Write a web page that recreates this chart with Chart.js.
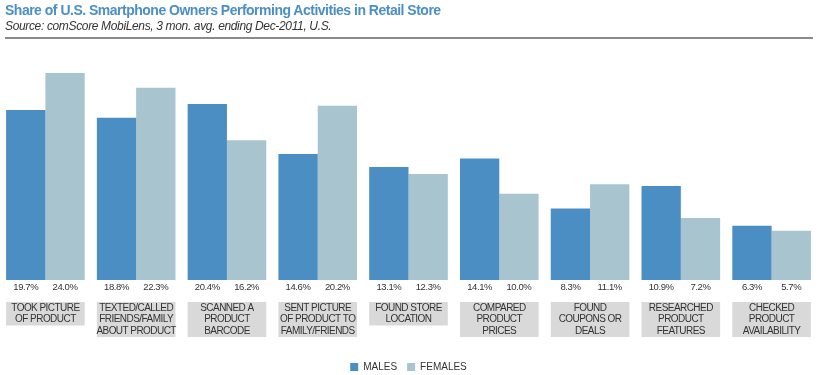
<!DOCTYPE html>
<html>
<head>
<meta charset="utf-8">
<script src="https://cdn.jsdelivr.net/npm/chart.js@4"></script>
<style>
  html, body { margin: 0; padding: 0; background: #fff; }
  #wrap { position: relative; width: 824px; height: 375px; overflow: hidden; font-family: "Liberation Sans", Arial, sans-serif; }
  #title { position: absolute; left: 5px; top: 2px; font-size: 14px; letter-spacing: -0.5px; font-weight: bold; color: #4a8fc6; white-space: nowrap; }
  #sub { position: absolute; left: 5px; top: 19px; font-size: 12px; letter-spacing: -0.35px; font-style: italic; color: #333; white-space: nowrap; }
  #rule { position: absolute; left: 5px; top: 37px; width: 808px; height: 2px; background: #8a8a8a; }
  #c { position: absolute; left: 0; top: 0; }
</style>
</head>
<body>
<div id="wrap">
  <canvas id="c" width="824" height="382"></canvas>
  <div id="title">Share of U.S. Smartphone Owners Performing Activities in Retail Store</div>
  <div id="sub">Source: comScore MobiLens, 3 mon. avg. ending Dec-2011, U.S.</div>
  <div id="rule"></div>
</div>
<script>
const categories = [
  ["TOOK PICTURE", "OF PRODUCT"],
  ["TEXTED/CALLED", "FRIENDS/FAMILY", "ABOUT PRODUCT"],
  ["SCANNED A", "PRODUCT", "BARCODE"],
  ["SENT PICTURE", "OF PRODUCT TO", "FAMILY/FRIENDS"],
  ["FOUND STORE", "LOCATION"],
  ["COMPARED", "PRODUCT", "PRICES"],
  ["FOUND", "COUPONS OR", "DEALS"],
  ["RESEARCHED", "PRODUCT", "FEATURES"],
  ["CHECKED", "PRODUCT", "AVAILABILITY"]
];
const males   = [19.7, 18.8, 20.4, 14.6, 13.1, 14.1, 8.3, 10.9, 6.3];
const females = [24.0, 22.3, 16.2, 20.2, 12.3, 10.0, 11.1, 7.2, 5.7];
const seriesNames = ["MALES", "FEMALES"];

const FONT = '"Liberation Sans", Arial, sans-serif';

const annotate = {
  id: 'annotate',
  afterDatasetsDraw(chart) {
    const ctx = chart.ctx;
    const area = chart.chartArea;
    ctx.save();
    ctx.textAlign = 'center';
    ctx.textBaseline = 'middle';
    // value labels
    ctx.font = '9.5px ' + FONT;
    ctx.letterSpacing = '-0.4px';
    ctx.fillStyle = '#333';
    chart.data.datasets.forEach((ds, di) => {
      const meta = chart.getDatasetMeta(di);
      meta.data.forEach((bar, i) => {
        ctx.fillText(ds.data[i].toFixed(1) + '%', bar.x, area.bottom + 7);
      });
    });
    // category boxes
    const m0 = chart.getDatasetMeta(0), m1 = chart.getDatasetMeta(1);
    chart.data.labels.forEach((lines, i) => {
      const b0 = m0.data[i], b1 = m1.data[i];
      const left = b0.x - b0.width / 2;
      const right = b1.x + b1.width / 2;
      const top = area.bottom + 22;
      const lh = 11.5;
      const h = lines.length * lh + 0.5;
      ctx.fillStyle = '#d9d9d9';
      ctx.fillRect(left, top, right - left, h);
      ctx.fillStyle = '#333';
      ctx.font = '10px ' + FONT;
      ctx.letterSpacing = '-0.55px';
      lines.forEach((t, k) => {
        ctx.fillText(t, (left + right) / 2, top + 6 + k * lh);
      });
    });
    ctx.restore();
  }
};

new Chart(document.getElementById('c'), {
  type: 'bar',
  data: {
    labels: categories,
    datasets: [
      { label: seriesNames[0], data: males, backgroundColor: '#4a8ec4', borderWidth: 0 },
      { label: seriesNames[1], data: females, backgroundColor: '#a8c4cf', borderWidth: 0 }
    ]
  },
  options: {
    responsive: false,
    animation: false,
    layout: { padding: { top: 73, left: 0, right: 7, bottom: 0 } },
    categoryPercentage: 0.866,
    barPercentage: 1.0,
    scales: {
      x: {
        display: true,
        grid: { display: false },
        border: { display: false },
        ticks: { display: false },
        afterFit(scale) { scale.height = 72; }
      },
      y: { display: false, min: 0, max: 24 }
    },
    plugins: {
      legend: {
        position: 'bottom',
        labels: {
          font: { family: FONT, size: 10 },
          color: '#333',
          boxWidth: 8,
          boxHeight: 8,
          padding: 10
        }
      },
      tooltip: { enabled: false }
    }
  },
  plugins: [annotate]
});
</script>
</body>
</html>
